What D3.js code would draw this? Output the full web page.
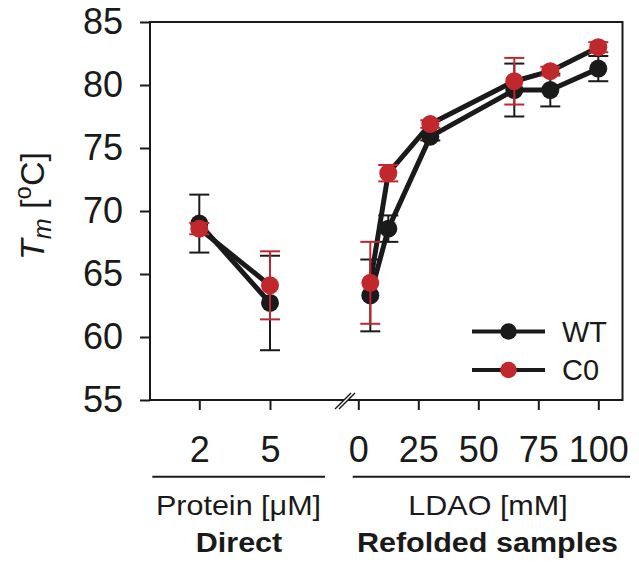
<!DOCTYPE html>
<html>
<head>
<meta charset="utf-8">
<script src="https://cdn.jsdelivr.net/npm/d3@7"></script>
<style>
  html, body { margin: 0; padding: 0; background: #fff; }
  svg { display: block; }
  text { font-family: "Liberation Sans", Arial, Helvetica, sans-serif; fill: #1a1a1a; }
</style>
</head>
<body>
<svg id="chart" width="639" height="569"></svg>
<script>
// ---------- data ----------
const directCats = ["2", "5"];                 // Protein [µM]
const wtDirect = [69.0, 62.7];
const wtDirectErr = [2.3, 3.75];
const c0Direct = [68.6, 64.1];
const c0DirectErr = [0.45, 2.7];

const ldao = [5, 12.5, 30, 65, 80, 100];       // LDAO [mM]
const wtRefold = [63.3, 68.6, 75.9, 79.6, 79.6, 81.3];
const wtRefoldErr = [2.85, 1.05, 0.3, 2.1, 1.3, 1.0];
const c0Refold = [64.3, 73.0, 76.9, 80.3, 81.1, 83.0];
const c0RefoldErr = [3.25, 0.65, 0.3, 1.85, 0.35, 0.4];

const ldaoTicks = [0, 25, 50, 75, 100];
const yTicks = [55, 60, 65, 70, 75, 80, 85];
const seriesNames = ["WT", "C0"];
const seriesColors = ["#1a1a1a", "#c0282d"];

(function () {
// ---------- layout ----------
const svg = d3.select("#chart");
const mLeft = 150, mRight = 622.5, mTop = 22, mBottom = 400;
const ink = "#1a1a1a";

const y = d3.scaleLinear().domain([55, 85]).range([mBottom, mTop]);
const xDirect = d3.scalePoint().domain(directCats).range([199.3, 270]);
const xRefold = d3.scaleLinear().domain([0, 100]).range([358.3, 598.3]);

function stretch(sel, f) {
  sel.each(function () {
    const len = this.getComputedTextLength();
    d3.select(this).attr("textLength", len * f).attr("lengthAdjust", "spacingAndGlyphs");
  });
}

// y axis
const yAxis = svg.append("g").attr("transform", `translate(${mLeft},0)`)
  .call(d3.axisLeft(y).tickValues(yTicks).tickSize(10).tickPadding(17).tickFormat(d3.format("d")));
yAxis.select(".domain").remove();
yAxis.selectAll(".tick line").attr("stroke", ink).attr("stroke-width", 2);
yAxis.selectAll(".tick text").style("font-size", "36px").attr("fill", ink);

// x axes
function styleX(g) {
  g.select(".domain").remove();
  g.selectAll(".tick line").attr("stroke", ink).attr("stroke-width", 2);
  g.selectAll(".tick text").style("font-size", "36px").attr("fill", ink);
}
svg.append("g").attr("transform", `translate(0,${mBottom})`)
  .call(d3.axisBottom(xDirect).tickSize(10).tickPadding(26)).call(styleX);
svg.append("g").attr("transform", `translate(0,${mBottom})`)
  .call(d3.axisBottom(xRefold).tickValues(ldaoTicks).tickSize(10).tickPadding(26).tickFormat(d3.format("d"))).call(styleX);

// frame
svg.append("rect").attr("x", mLeft).attr("y", mTop).attr("width", mRight - mLeft).attr("height", mBottom - mTop)
  .attr("fill", "none").attr("stroke", ink).attr("stroke-width", 2);

// axis break marks
svg.append("polygon").attr("points", "335,409 351,393 355,393 339,409").attr("fill", "#fff");
svg.append("line").attr("x1", 335).attr("y1", 409).attr("x2", 351).attr("y2", 393).attr("stroke", ink).attr("stroke-width", 1.5);
svg.append("line").attr("x1", 339).attr("y1", 409).attr("x2", 355).attr("y2", 393).attr("stroke", ink).attr("stroke-width", 1.5);

// group lines & labels
svg.append("line").attr("x1", 152.3).attr("x2", 325).attr("y1", 476.7).attr("y2", 476.7).attr("stroke", ink).attr("stroke-width", 2);
svg.append("line").attr("x1", 352.7).attr("x2", 630).attr("y1", 476.7).attr("y2", 476.7).attr("stroke", ink).attr("stroke-width", 2);

const t1 = svg.append("text").attr("x", 238.5).attr("y", 515).attr("text-anchor", "middle").style("font-size", "28px").text("Protein [μM]");
const t2 = svg.append("text").attr("x", 239).attr("y", 551.7).attr("text-anchor", "middle").style("font-size", "28px").style("font-weight", "bold").text("Direct");
const t3 = svg.append("text").attr("x", 488).attr("y", 515).attr("text-anchor", "middle").style("font-size", "28px").text("LDAO [mM]");
const t4 = svg.append("text").attr("x", 487.5).attr("y", 551.7).attr("text-anchor", "middle").style("font-size", "28px").style("font-weight", "bold").text("Refolded samples");
[t1, t2, t3, t4].forEach(t => stretch(t, 1.09));

// y title
const yt = svg.append("text").attr("transform", "translate(44,206) rotate(-90)").attr("text-anchor", "middle").style("font-size", "34px");
yt.append("tspan").style("font-style", "italic").text("T");
yt.append("tspan").style("font-style", "italic").style("font-size", "25px").attr("dy", 7).text("m");
yt.append("tspan").attr("dy", -7).text(" [");
yt.append("tspan").style("font-size", "24px").attr("dy", -13).text("o");
yt.append("tspan").attr("dy", 13).text("C]");

// ---------- series ----------
const series = [
  { name: "WT", color: seriesColors[0], direct: wtDirect, dErr: wtDirectErr, refold: wtRefold, rErr: wtRefoldErr },
  { name: "C0", color: seriesColors[1], direct: c0Direct, dErr: c0DirectErr, refold: c0Refold, rErr: c0RefoldErr }
];
const line = d3.line().x(d => d[0]).y(d => d[1]);

series.forEach(s => {
  const dPts = directCats.map((c, i) => [xDirect(c), y(s.direct[i]), s.dErr[i], s.direct[i]]);
  const rPts = ldao.map((c, i) => [xRefold(c), y(s.refold[i]), s.rErr[i], s.refold[i]]);
  const g = svg.append("g");
  [dPts, rPts].forEach(pts => {
    g.append("path").attr("d", line(pts)).attr("fill", "none").attr("stroke", ink).attr("stroke-width", 5).attr("stroke-linejoin", "round");
  });
  const all = dPts.concat(rPts);
  const eb = g.selectAll(".eb").data(all).enter().append("g");
  eb.append("line").attr("x1", d => d[0]).attr("x2", d => d[0])
    .attr("y1", d => y(d[3] + d[2])).attr("y2", d => y(d[3] - d[2]))
    .attr("stroke", s.color).attr("stroke-width", 2);
  [1, -1].forEach(sg => {
    eb.append("line").attr("x1", d => d[0] - 10).attr("x2", d => d[0] + 10)
      .attr("y1", d => y(d[3] + sg * d[2])).attr("y2", d => y(d[3] + sg * d[2]))
      .attr("stroke", s.color).attr("stroke-width", 2);
  });
  g.selectAll(".pt").data(all).enter().append("circle")
    .attr("cx", d => d[0]).attr("cy", d => d[1]).attr("r", 9).attr("fill", s.color);
});

// ---------- legend ----------
const leg = svg.append("g");
seriesNames.forEach((n, i) => {
  const ly = 331.5 + i * 38.5;
  leg.append("line").attr("x1", 472).attr("x2", 545).attr("y1", ly).attr("y2", ly).attr("stroke", ink).attr("stroke-width", 4);
  leg.append("circle").attr("cx", 508.5).attr("cy", ly).attr("r", 8.3).attr("fill", seriesColors[i]);
  leg.append("text").attr("x", 562).attr("y", ly + 10).style("font-size", "29px").text(n);
});
})();
</script>
</body>
</html>
